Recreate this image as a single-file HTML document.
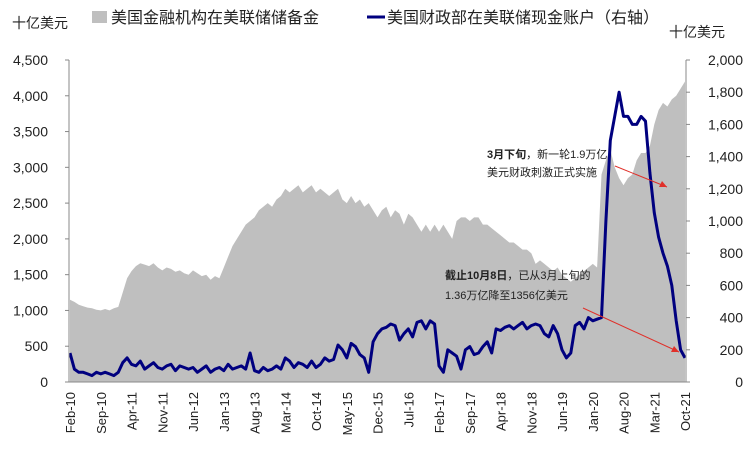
<!DOCTYPE html>
<html><head><meta charset="utf-8"><style>
body{margin:0;background:#fff;}
svg text{font-family:"Liberation Sans","Noto Sans CJK SC",sans-serif;fill:#222;}
</style></head><body>
<svg id="c" width="753" height="469"></svg>
<script>
const months=["Feb-10","Sep-10","Apr-11","Nov-11","Jun-12","Jan-13","Aug-13","Mar-14","Oct-14","May-15","Dec-15","Jul-16","Feb-17","Sep-17","Apr-18","Nov-18","Jun-19","Jan-20","Aug-20","Mar-21","Oct-21"];
const leftTicks=[0,500,1000,1500,2000,2500,3000,3500,4000,4500];
const rightTicks=[0,200,400,600,800,1000,1200,1400,1600,1800,2000];
const reserves=[1150,1120,1080,1060,1040,1030,1010,1000,1020,1000,1030,
1050,1250,1450,1550,1620,1660,1640,1620,1660,1600,1560,1600,
1580,1540,1560,1520,1500,1560,1520,1480,1500,1430,1480,1450,
1600,1750,1900,2000,2100,2200,2250,2300,2400,2450,2500,2450,
2550,2600,2700,2650,2700,2750,2650,2700,2750,2650,2700,2650,
2600,2650,2700,2550,2500,2600,2500,2550,2450,2500,2400,2300,
2400,2450,2300,2400,2350,2200,2350,2300,2200,2100,2200,2100,
2200,2100,2200,2100,2000,2250,2300,2300,2250,2300,2300,2200,
2200,2150,2100,2050,2000,1950,1950,1900,1850,1850,1800,1650,
1700,1650,1600,1550,1600,1500,1450,1400,1450,1500,1550,1600,
1650,1600,2900,3100,3250,3000,2850,2750,2850,2900,3100,3200,
3200,3300,3600,3800,3900,3850,3950,4000,4100,4200];
const tga=[180,80,60,60,50,40,60,50,60,50,40,
60,120,150,110,100,130,80,100,120,90,80,100,
110,70,100,90,80,90,60,80,100,60,80,90,
70,110,80,90,100,80,180,70,60,90,70,80,
100,80,150,130,90,120,110,90,130,90,110,150,
130,140,230,200,150,240,220,170,150,60,250,300,
330,340,360,350,260,300,330,280,370,380,330,380,
360,100,60,200,180,160,80,200,220,170,180,220,
250,180,330,320,340,350,330,350,370,330,350,360,
350,300,280,350,300,200,150,180,350,370,330,400,
380,390,400,1000,1500,1650,1800,1650,1650,1600,1600,1650,
1620,1300,1050,900,800,720,600,380,200,150];
const svg=document.getElementById('c');const NS='http://www.w3.org/2000/svg';
const X0=70,X1=685,Y0=382,Y1=60;
const x=i=>X0+(X1-X0)*i/(reserves.length-1);
const yl=v=>Y0-(Y0-Y1)*v/4500;
const yr=v=>Y0-(Y0-Y1)*v/2000;
function el(t,a,txt){const e=document.createElementNS(NS,t);for(const k in a)e.setAttribute(k,a[k]);if(txt!=null)e.textContent=txt;svg.appendChild(e);return e;}
let d='M'+x(0)+','+Y0;reserves.forEach((v,i)=>d+=' L'+x(i).toFixed(1)+','+yl(v).toFixed(1));d+=' L'+x(reserves.length-1)+','+Y0+' Z';
let a=el('path',{d:d,fill:'#bfbfbf'});


let p='';tga.forEach((v,i)=>p+=(i?' L':'M')+x(i).toFixed(1)+','+yr(v).toFixed(1));
let l=el('path',{d:p,fill:'none',stroke:'#00007f','stroke-width':3,'stroke-linejoin':'round'});


el('line',{x1:X0-1,y1:Y1,x2:X0-1,y2:Y0,stroke:'#888'});
el('line',{x1:X1+1,y1:Y1,x2:X1+1,y2:Y0,stroke:'#888'});
el('line',{x1:X0-1,y1:Y0,x2:X1+1,y2:Y0,stroke:'#888'});
leftTicks.forEach(v=>{el('line',{x1:X0-5,y1:yl(v),x2:X0-1,y2:yl(v),stroke:'#888'});
let t=el('text',{x:48,y:yl(v)+5,'text-anchor':'end','font-size':14},v.toLocaleString('en-US'));
});
rightTicks.forEach(v=>{el('line',{x1:X1+1,y1:yr(v),x2:X1+5,y2:yr(v),stroke:'#888'});
let t=el('text',{x:743,y:yr(v)+5,'text-anchor':'end','font-size':14},v.toLocaleString('en-US'));
});
months.forEach((m,k)=>{const xx=x(k*7);
let t=el('text',{x:0,y:0,'text-anchor':'end','font-size':13,transform:`translate(${xx+5},392) rotate(-90)`},m);
});
</script>
<svg width="753" height="469" style="position:absolute;left:0;top:0">
<text x="12" y="28" font-size="14">十亿美元</text>
<text x="669" y="37" font-size="14">十亿美元</text>
<rect x="92" y="11" width="15" height="12" fill="#bfbfbf"/>
<text x="111" y="23" font-size="16">美国金融机构在美联储储备金</text>
<line x1="367" y1="17" x2="385" y2="17" stroke="#00007f" stroke-width="3"/>
<text x="387" y="23" font-size="16">美国财政部在美联储现金账户（右轴）</text>
<text x="487" y="158" font-size="11"><tspan font-weight="bold">3月下旬</tspan>，新一轮1.9万亿</text>
<text x="487" y="176" font-size="11">美元财政刺激正式实施</text>
<line x1="615" y1="166" x2="667" y2="187" stroke="#e0302a"/>
<path d="M667,187 L659,187 L662,181 Z" fill="#e0302a"/>
<text x="445" y="279" font-size="11"><tspan font-weight="bold">截止10月8日</tspan>，已从3月上旬的</text>
<text x="445" y="299" font-size="11">1.36万亿降至1356亿美元</text>
<line x1="583" y1="308" x2="679" y2="352" stroke="#e0302a"/>
<path d="M679,352 L671,352 L674,346 Z" fill="#e0302a"/>
</svg>
</body></html>
